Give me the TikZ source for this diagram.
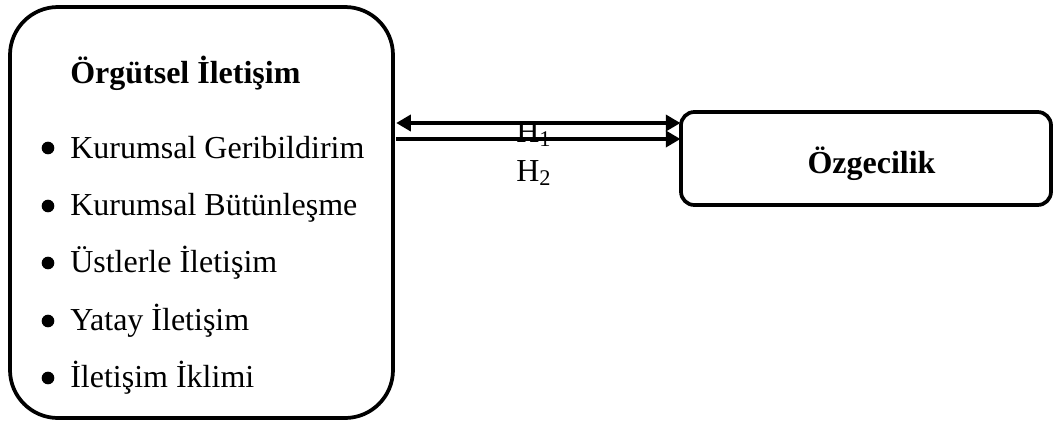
\documentclass[tikz,border=0pt]{standalone}
\usepackage{fontspec}
\setmainfont{Liberation Serif}
\usetikzlibrary{arrows.meta}
\begin{document}
\begin{tikzpicture}[x=0.75pt,y=-0.75pt,
  boxstyle/.style={draw, line width=2.8pt, rounded corners=#1, inner sep=0pt},
  txt/.style={anchor=base west, inner sep=0pt, font=\fontsize{24}{28}\selectfont},
  dotmark/.style={circle, fill, inner sep=0pt, minimum size=9.5pt},
  conn/.style={line width=2.8pt, -{Triangle[length=11pt,width=12pt]}},
  lbl/.style={inner sep=0pt, font=\fontsize{24}{28}\selectfont}]
\useasboundingbox (0,0) rectangle (1054,426);
\node[boxstyle=36pt, minimum width=383*0.75pt, minimum height=411*0.75pt] (L) at (201.5,212.5) {};
\node[boxstyle=10pt, minimum width=370*0.75pt, minimum height=93*0.75pt] (R) at (866,158.5) {};
\node[lbl, anchor=base, font=\fontsize{24}{28}\selectfont\bfseries] (Rt) at (871.5,173) {Özgecilik};
\node[txt, font=\fontsize{24}{28}\selectfont\bfseries] (t0) at (70,83) {Örgütsel İletişim};
\node[txt] (t1) at (70,158) {Kurumsal Geribildirim};
\node[txt] (t2) at (70,215) {Kurumsal Bütünleşme};
\node[txt] (t3) at (70,272) {Üstlerle İletişim};
\node[txt] (t4) at (70,330) {Yatay İletişim};
\node[txt] (t5) at (70,387) {İletişim İklimi};
\node[dotmark] (b1) at (48,148) {};
\node[dotmark] (b2) at (48,206) {};
\node[dotmark] (b3) at (48,263) {};
\node[dotmark] (b4) at (48,321) {};
\node[dotmark] (b5) at (48,378) {};
\coordinate (ya) at (0,123);
\coordinate (yb) at (0,139);
\draw[conn, {Triangle[length=11pt,width=12pt]}-{Triangle[length=11pt,width=12pt]}] ([xshift=1pt]L.east |- ya) -- ([xshift=1pt]R.west |- ya);
\draw[conn] ([xshift=1pt]L.east |- yb) -- ([xshift=1pt]R.west |- yb);
\node[lbl, anchor=base west] (h1) at (516,142) {H\textsubscript{1}};
\node[lbl, anchor=base west] (h2) at (516,181) {H\textsubscript{2}};
\end{tikzpicture}
\end{document}
